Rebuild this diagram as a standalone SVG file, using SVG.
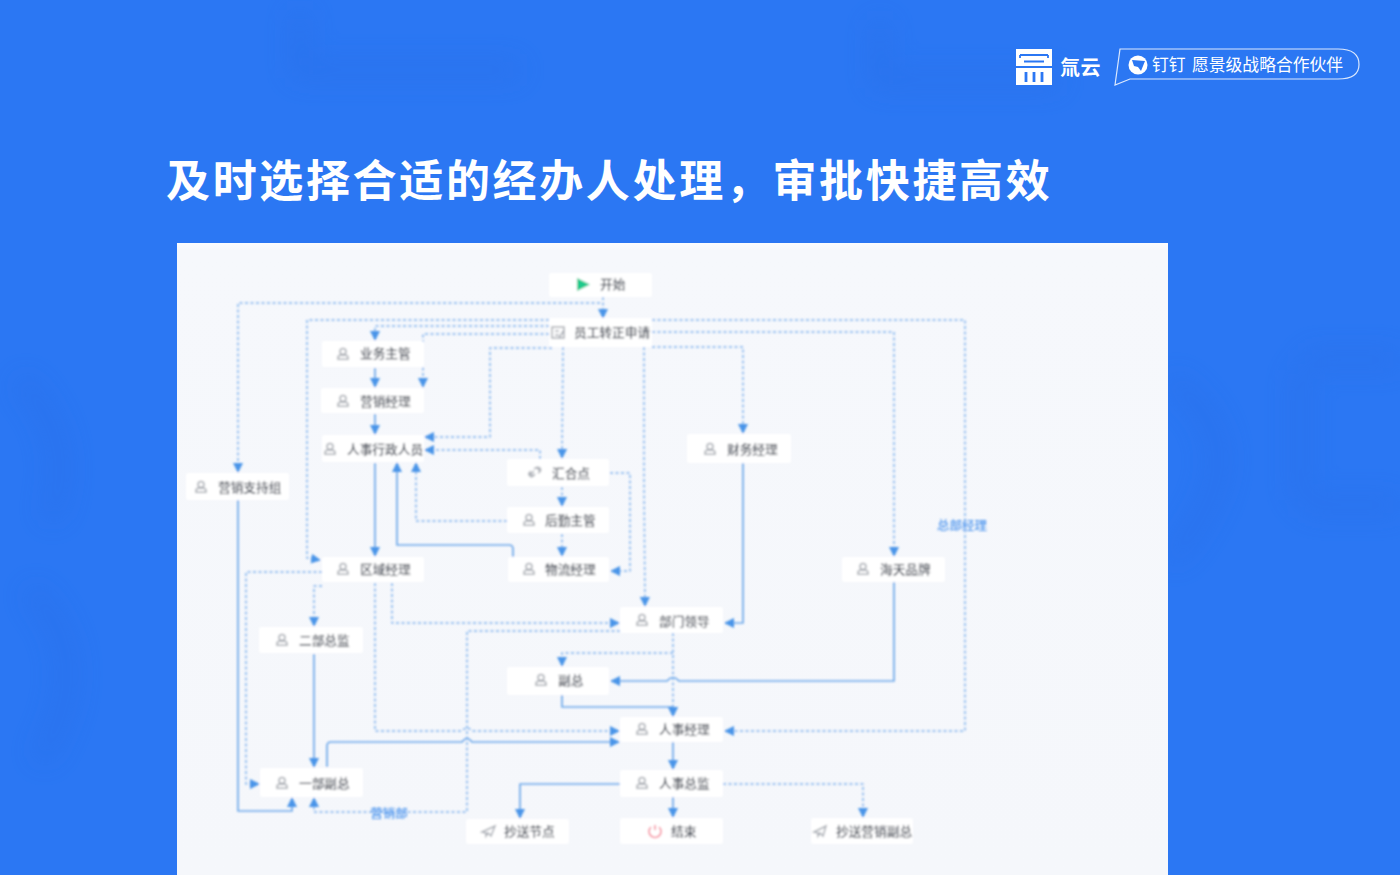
<svg xmlns="http://www.w3.org/2000/svg" width="1400" height="875" viewBox="0 0 1400 875">
<style>
.title{font:700 44px "Noto Sans CJK SC","Noto Sans",sans-serif;fill:#fff;letter-spacing:2.65px}
.brand{font:700 20px "Noto Sans CJK SC",sans-serif;fill:#fff;letter-spacing:.5px}
.part{font:400 16.8px "Noto Sans CJK SC",sans-serif;fill:#fff}
.box{fill:#fff}
.lbl{font:500 12.7px "Noto Sans CJK SC",sans-serif;fill:#4a4f5a}
.edge-label{font:500 12.500px "Noto Sans CJK SC",sans-serif;fill:#4f96ee}
.solid,.dash{fill:none;stroke:#6ea8ea;stroke-width:1.7;stroke-linejoin:round}
.dash{stroke:#7fb2ee;stroke-width:1.5;stroke-dasharray:3 2.5}
.ico{fill:none;stroke:#a8acb3;stroke-width:1.5}
</style>
<defs>
<filter id="soft" x="-2%" y="-2%" width="104%" height="104%"><feGaussianBlur stdDeviation="1"/></filter>
<filter id="haze" x="-20%" y="-20%" width="140%" height="140%"><feGaussianBlur stdDeviation="14"/></filter>
<linearGradient id="sheet" x1="0" y1="0" x2="0" y2="1"><stop offset="0" stop-color="#fbfcfe"/><stop offset=".012" stop-color="#f6f8fc"/><stop offset="1" stop-color="#f5f7fb"/></linearGradient>
<marker id="tip" viewBox="0 0 10 10" refX="9" refY="5" markerWidth="10" markerHeight="10" markerUnits="userSpaceOnUse" orient="auto"><path d="M0 0L10 5L0 10Z" fill="#4a94e8"/></marker>
<g id="person"><circle cx="0" cy="-2.5" r="3"/><path d="M-5 5.2V3.2Q-5 1.6-2.6 1.2H2.6Q5 1.6 5 3.2V5.2Z"/></g>
</defs>

<rect width="1400" height="875" fill="#2b77f3"/>
<!-- faint tonal shapes in the backdrop -->
<g fill="none" stroke="#2566de" stroke-width="16" opacity=".3" filter="url(#haze)">
<path d="M300 10V70H520M880 20V80H1060"/>
<path d="M1300 370V500M1305 360H1400M1305 505H1400"/>
<path d="M1170 380Q1240 430 1210 500Q1190 540 1170 560"/>
<path d="M20 380Q80 440 50 520M30 590Q100 660 40 760"/>
</g>

<!-- brand mark -->
<g id="brand">
<rect x="1016" y="49" width="36" height="36" fill="#fff"/>
<path d="M1020 55H1048M1024 61.500H1044M1016 67H1052" stroke="#2b77f3" stroke-width="2.2" fill="none"/>
<path d="M1020 55V58M1048 55V58" stroke="#2b77f3" stroke-width="1.800" fill="none"/>
<path d="M1026 72V82M1034 72V82M1042 72V82" stroke="#2b77f3" stroke-width="2.8" fill="none"/>
<text class="brand" x="1060" y="75">氚云</text>
<path d="M1120 49H1338Q1359 49 1359 64.500Q1359 79 1338 79H1130L1115 85Z" fill="none" stroke="#dbe8fd" stroke-width="1.2"/>
<circle cx="1138" cy="65" r="9.500" fill="#fff"/>
<path d="M1132 60L1145 61L1141 71L1138 67L1134 66Z" fill="#2b77f3"/>
<text class="part" x="1152" y="71">钉钉</text>
<text class="part" x="1192" y="71">愿景级战略合作伙伴</text>
</g>

<text class="title" x="166" y="197">及时选择合适的经办人处理，审批快捷高效</text>

<rect id="panel" x="177" y="243" width="991" height="632" fill="url(#sheet)"/>

<g filter="url(#soft)">
<g id="connectors">
<path class="dash" marker-end="url(#tip)" d="M603 297V318"/>
<path class="dash" marker-end="url(#tip)" d="M600 303H238V472"/>
<path class="dash" marker-end="url(#tip)" d="M549 320H307V558L320 560"/>
<path class="dash" marker-end="url(#tip)" d="M549 326H375V340"/>
<path class="dash" marker-end="url(#tip)" d="M549 334H423V387"/>
<path class="dash" marker-end="url(#tip)" d="M552 348H490V437H425"/>
<path class="dash" marker-end="url(#tip)" d="M563 347L562 458"/>
<path class="solid" marker-end="url(#tip)" d="M375 368V387"/>
<path class="solid" marker-end="url(#tip)" d="M375 414V434"/>
<path class="solid" marker-end="url(#tip)" d="M375 463V556"/>
<path class="dash" marker-end="url(#tip)" d="M540 459V450H425"/>
<path class="dash" marker-end="url(#tip)" d="M562 487V506"/>
<path class="dash" marker-end="url(#tip)" d="M562 534V556"/>
<path class="dash" marker-end="url(#tip)" d="M610 473H630V571H611"/>
<path class="dash" marker-end="url(#tip)" d="M507 521H416V463"/>
<path class="solid" marker-end="url(#tip)" d="M513 557V549Q513 545 509 545H397V463"/>
<path class="solid" marker-end="url(#tip)" d="M238 500V811H292V798"/>
<path class="dash" marker-end="url(#tip)" d="M322 572H246V784H259"/>
<path class="dash" marker-end="url(#tip)" d="M322 586H314V626"/>
<path class="solid" marker-end="url(#tip)" d="M314 654V767"/>
<path class="dash" marker-end="url(#tip)" d="M375 583V731H462Q467 725 472 731H619"/>
<path class="dash" marker-end="url(#tip)" d="M392 583V623H619"/>
<path class="dash" marker-end="url(#tip)" d="M620 631H467V812H314V798"/>
<path class="solid" marker-end="url(#tip)" d="M327 767V746Q327 742 331 742H462Q467 735 472 742H619"/>
<path class="dash" marker-end="url(#tip)" d="M652 320H965V731H725"/>
<path class="dash" marker-end="url(#tip)" d="M652 332H894V556"/>
<path class="dash" marker-end="url(#tip)" d="M652 347H743V433"/>
<path class="dash" marker-end="url(#tip)" d="M644 347V477L645 606"/>
<path class="solid" marker-end="url(#tip)" d="M743 463V623H725"/>
<path class="solid" marker-end="url(#tip)" d="M894 582V681H679Q673 674 667 681H611"/>
<path class="dash" marker-end="url(#tip)" d="M673 633V716"/>
<path class="dash" marker-end="url(#tip)" d="M673 653H562V666"/>
<path class="solid" marker-end="url(#tip)" d="M562 695V707H673V716"/>
<path class="solid" marker-end="url(#tip)" d="M673 742V769"/>
<path class="solid" marker-end="url(#tip)" d="M673 797V817"/>
<path class="solid" marker-end="url(#tip)" d="M620 784H520V818"/>
<path class="dash" marker-end="url(#tip)" d="M723 784H863V817"/>
<text class="edge-label" x="389" y="818" text-anchor="middle">营销部</text>
<text class="edge-label" x="962" y="530" text-anchor="middle">总部经理</text>
</g>

<g id="n-start"><rect class="box" x="549" y="273" width="103" height="24" rx="2"/><path d="M577 278L590 284.500L577 291Z" fill="#1fc98b"/><text class="lbl" x="600" y="289">开始</text></g>
<g id="n-apply"><rect class="box" x="549" y="318" width="103" height="29" rx="2"/><path class="ico" d="M552 327H564V338H552ZM555 331H559M555 335H559M559 338L564 330"/><text class="lbl" x="574" y="337">员工转正申请</text></g>
<g id="n-biz"><rect class="box" x="322" y="341" width="102" height="26" rx="2"/><use href="#person" class="ico" x="343" y="354"/><text class="lbl" x="360" y="358">业务主管</text></g>
<g id="n-sales"><rect class="box" x="321" y="388" width="103" height="25" rx="2"/><use href="#person" class="ico" x="343" y="401"/><text class="lbl" x="360" y="406">营销经理</text></g>
<g id="n-hradmin"><rect class="box" x="322" y="435" width="102" height="27" rx="2"/><use href="#person" class="ico" x="330" y="449"/><text class="lbl" x="347" y="454">人事行政人员</text></g>
<g id="n-support"><rect class="box" x="186" y="473" width="103" height="27" rx="2"/><use href="#person" class="ico" x="201" y="487"/><text class="lbl" x="218" y="492">营销支持组</text></g>
<g id="n-merge"><rect class="box" x="507" y="459" width="102" height="27" rx="2"/><path class="ico" d="M530 475L534 471M533 476L530 473M537 468L540 471M535 474Q532 478 530 476Q527 474 531 471M534 469Q537 466 540 468Q542 471 538 473"/><text class="lbl" x="552" y="478">汇合点</text></g>
<g id="n-logi-head"><rect class="box" x="507" y="507" width="102" height="26" rx="2"/><use href="#person" class="ico" x="529" y="520"/><text class="lbl" x="545" y="525">后勤主管</text></g>
<g id="n-logistics"><rect class="box" x="508" y="557" width="101" height="25" rx="2"/><use href="#person" class="ico" x="529" y="569"/><text class="lbl" x="545" y="574">物流经理</text></g>
<g id="n-region"><rect class="box" x="322" y="557" width="102" height="25" rx="2"/><use href="#person" class="ico" x="343" y="569"/><text class="lbl" x="360" y="574">区域经理</text></g>
<g id="n-finance"><rect class="box" x="687" y="434" width="104" height="29" rx="2"/><use href="#person" class="ico" x="710" y="449"/><text class="lbl" x="727" y="454">财务经理</text></g>
<g id="n-brand"><rect class="box" x="842" y="557" width="103" height="25" rx="2"/><use href="#person" class="ico" x="863" y="569"/><text class="lbl" x="880" y="574">海天品牌</text></g>
<g id="n-dept"><rect class="box" x="620" y="607" width="103" height="26" rx="2"/><use href="#person" class="ico" x="642" y="620"/><text class="lbl" x="659" y="626">部门领导</text></g>
<g id="n-vp"><rect class="box" x="507" y="667" width="102" height="28" rx="2"/><use href="#person" class="ico" x="541" y="680"/><text class="lbl" x="558" y="685">副总</text></g>
<g id="n-dir2"><rect class="box" x="259" y="627" width="104" height="26" rx="2"/><use href="#person" class="ico" x="282" y="640"/><text class="lbl" x="299" y="645">二部总监</text></g>
<g id="n-vp1"><rect class="box" x="260" y="768" width="103" height="29" rx="2"/><use href="#person" class="ico" x="282" y="783"/><text class="lbl" x="299" y="788">一部副总</text></g>
<g id="n-hrmgr"><rect class="box" x="620" y="717" width="103" height="25" rx="2"/><use href="#person" class="ico" x="642" y="729"/><text class="lbl" x="659" y="734">人事经理</text></g>
<g id="n-hrdir"><rect class="box" x="620" y="770" width="103" height="27" rx="2"/><use href="#person" class="ico" x="642" y="783"/><text class="lbl" x="659" y="788">人事总监</text></g>
<g id="n-cc"><rect class="box" x="466" y="819" width="103" height="25" rx="2"/><path class="ico" d="M482 832L495 826L491 836L488 833L486 836V833Z"/><text class="lbl" x="504" y="836">抄送节点</text></g>
<g id="n-end"><rect class="box" x="620" y="818" width="103" height="26" rx="2"/><path d="M651 827A6 6 0 1 0 659 827M655 825V830" fill="none" stroke="#f58a9b" stroke-width="1.6"/><text class="lbl" x="671" y="836">结束</text></g>
<g id="n-ccvp"><rect class="box" x="811" y="818" width="102" height="26" rx="2"/><path class="ico" d="M814 832L826 826L823 836L820 833L818 836V833Z"/><text class="lbl" x="836" y="836">抄送营销副总</text></g>
</g>
</svg>
